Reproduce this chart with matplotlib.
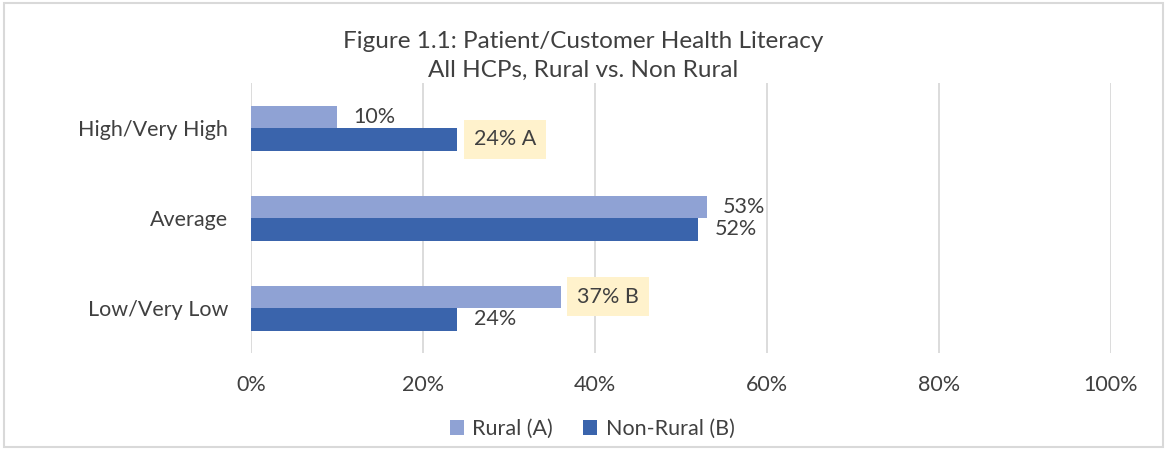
import matplotlib.pyplot as plt
from matplotlib.patches import Rectangle
import numpy as np

plt.rcParams['font.family'] = ['Lato', 'DejaVu Sans']

categories = ['High/Very High', 'Average', 'Low/Very Low']
rural = [10, 53, 36]
non_rural = [24, 52, 24]
rural_labels = ['10%', '53%', '37% B']
non_rural_labels = ['24% A', '52%', '24%']
highlight_rural = [False, False, True]
highlight_non_rural = [True, False, False]
xticks = [0, 20, 40, 60, 80, 100]

c_rural = '#8FA2D4'
c_non = '#3A64AC'
txt = '#404040'
fs = 15.5

fig = plt.figure(figsize=(11.66, 4.49), dpi=100)
ax = fig.add_axes([251 / 1166, 1 - 353 / 449, 860 / 1166, 270 / 449])

y = np.arange(len(categories))
h = 0.25
ax.barh(y - h / 2, rural, height=h, color=c_rural, label='Rural (A)', zorder=3)
ax.barh(y + h / 2, non_rural, height=h, color=c_non, label='Non-Rural (B)', zorder=3)

ax.set_xlim(0, 100)
ax.set_ylim(2.5, -0.5)
ax.set_xticks(xticks)
ax.set_xticklabels([f'{t}%' for t in xticks], fontsize=fs, color=txt)
ax.set_yticks(y)
ax.set_yticklabels(categories, fontsize=fs, color=txt)
ax.tick_params(length=0)
ax.tick_params(axis='x', pad=16)
ax.tick_params(axis='y', pad=16.5)
ax.grid(axis='x', color='#D9D9D9', linewidth=1.3, zorder=0)
for s in ax.spines.values():
    s.set_visible(False)


def put_label(val, ypos, text, hl):
    if hl:
        ax.text(val + 1.9, ypos, text, va='center', ha='left', fontsize=fs, color=txt,
                bbox=dict(boxstyle='square,pad=0.45', fc='#FFF2CC', ec='none'), zorder=4)
    else:
        ax.text(val + 1.9, ypos, text, va='center', ha='left', fontsize=fs, color=txt, zorder=4)


for i in range(len(categories)):
    put_label(rural[i], y[i] - h / 2, rural_labels[i], highlight_rural[i])
    put_label(non_rural[i], y[i] + h / 2, non_rural_labels[i], highlight_non_rural[i])

fig.text(0.5, 1 - 42 / 449, 'Figure 1.1: Patient/Customer Health Literacy', ha='center', va='center',
         fontsize=17.5, color=txt)
fig.text(0.5, 1 - 70 / 449, 'All HCPs, Rural vs. Non Rural', ha='center', va='center',
         fontsize=17.5, color=txt)

fig.legend(loc='center', bbox_to_anchor=(592 / 1166, 1 - 429 / 449), ncol=2, frameon=False,
           fontsize=fs, labelcolor=txt, handlelength=0.65, handleheight=0.65,
           handletextpad=0.4, columnspacing=1.4)

fig.patches.append(Rectangle((4 / 1166, 2 / 449), 1159 / 1166, 444 / 449, transform=fig.transFigure,
                             fill=False, ec='#D9D9D9', lw=1.5))

fig.savefig('out.png', dpi=100)
